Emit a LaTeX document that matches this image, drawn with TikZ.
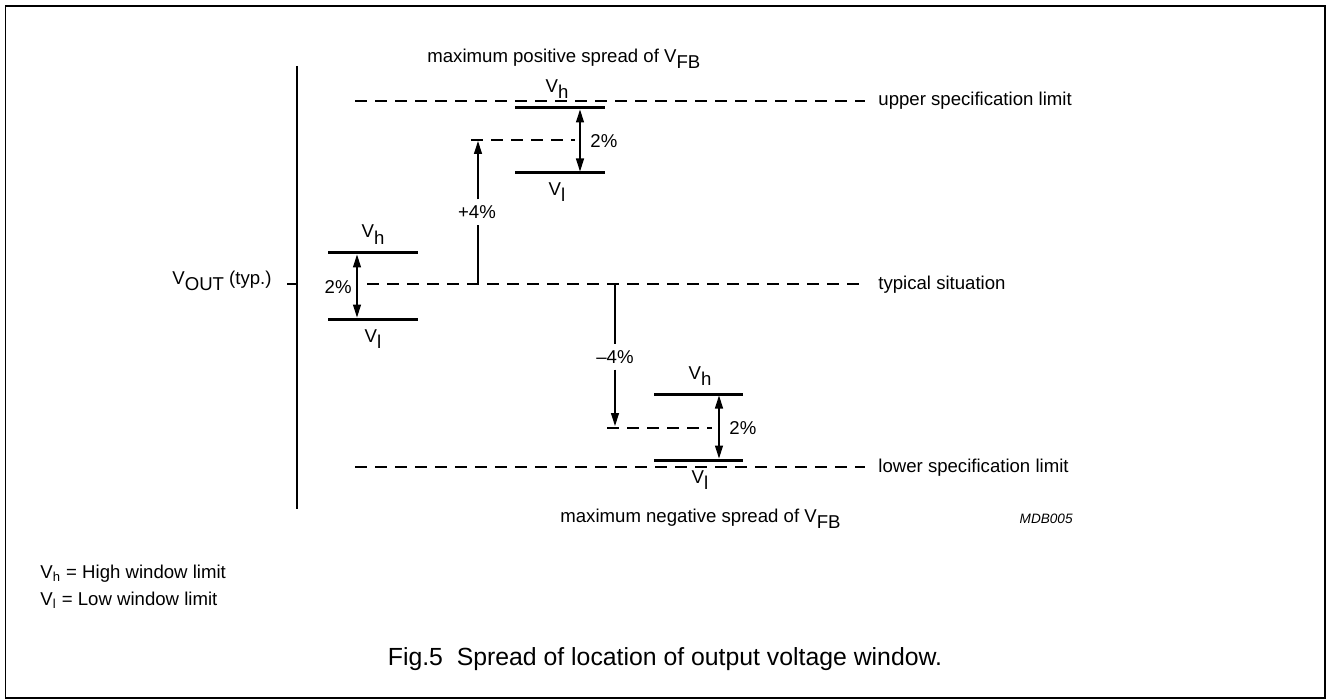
\documentclass[tikz,border=0pt]{standalone}
\usepackage{fontspec}
\setmainfont{Liberation Sans}
\usetikzlibrary{arrows.meta}

\newcommand{\vsub}[1]{V\raisebox{-3pt}{#1}}

\tikzset{
  lim/.style={line width=0.65pt, dash pattern=on 6pt off 4pt},
  bar/.style={line width=1.5pt},
  dim/.style={line width=0.6pt},
  tip/.style={-{Triangle[length=6.5pt,width=4pt]}},
  tips/.style={{Triangle[length=6.5pt,width=4pt]}-{Triangle[length=6.5pt,width=4pt]}},
  lbl/.style={inner sep=0pt, font=\fontsize{9.3}{11}\selectfont},
}

\begin{document}
\begin{tikzpicture}[x=0.5pt, y=-0.5pt]
 \useasboundingbox (0,0) rectangle (1327,700);
 \draw[line width=0.8pt] (5.5,6) rectangle (1325,698);

 % axis
 \coordinate (axT) at (297,66);
 \coordinate (axB) at (297,509);
 \coordinate (tick) at (287,284);
 \draw[dim] (axT) -- (axB);
 \draw[dim] (tick) -- (tick -| axT);
 \node[lbl, anchor=base east] (vout) at (272,285) {\vsub{OUT} (typ.)};

 % limit lines
 \coordinate (upA) at (355,101); \coordinate (upB) at (865,101);
 \coordinate (tyA) at (367,284); \coordinate (tyB) at (865,284);
 \coordinate (loA) at (355,467); \coordinate (loB) at (865,467);
 \draw[lim] (upA) -- (upB);
 \draw[lim] (tyA) -- (tyB);
 \draw[lim] (loA) -- (loB);
 \node[lbl, anchor=base west] (upper) at (878,106) {upper specification limit};
 \node[lbl, anchor=base west] (typical) at (878,289) {typical situation};
 \node[lbl, anchor=base west] (lower) at (878,472) {lower specification limit};
 \draw[lim] (471,140) -- (575,140);
 \draw[lim] (607,428) -- (712,428);

 % window, typical
 \draw[bar] (328,253) -- (418,253);
 \draw[bar] (328,319) -- (418,319);
 \coordinate (w1t) at (357,254.5); \coordinate (w1b) at (357,317.5);
 \draw[dim, tips] (w1t) -- (w1b);
 \node[lbl, anchor=east] (w1p) at (352,287) {2\%};
 \node[lbl, anchor=base] (w1vh) at (373,238) {\vsub{h}};
 \node[lbl, anchor=base] (w1vl) at (373,342) {\vsub{l}};

 % window, positive spread
 \draw[bar] (515,108) -- (605,108);
 \draw[bar] (515,173) -- (605,173);
 \coordinate (w2t) at (580,109.5); \coordinate (w2b) at (580,171.5);
 \draw[dim, tips] (w2t) -- (w2b);
 \node[lbl, anchor=west] (w2p) at (590,141) {2\%};
 \node[lbl, anchor=base] (w2vh) at (557,93) {\vsub{h}};
 \node[lbl, anchor=base] (w2vl) at (557,196) {\vsub{l}};

 % window, negative spread
 \draw[bar] (654,394) -- (743,394);
 \draw[bar] (654,460) -- (743,460);
 \coordinate (w3t) at (719,395.5); \coordinate (w3b) at (719,458.5);
 \draw[dim, tips] (w3t) -- (w3b);
 \node[lbl, anchor=west] (w3p) at (729,428) {2\%};
 \node[lbl, anchor=base] (w3vh) at (700,379) {\vsub{h}};
 \node[lbl, anchor=base] (w3vl) at (700,483) {\vsub{l}};

 % spreads
 \coordinate (p4b) at (478,284); \coordinate (p4t) at (478,141);
 \node[lbl, inner ysep=2.8pt] (p4) at (477,212) {+4\%};
 \draw[dim] (p4b) -- (p4b |- p4.south);
 \draw[dim, tip] (p4t |- p4.north) -- (p4t);
 \coordinate (m4t) at (615,284); \coordinate (m4b) at (615,426);
 \node[lbl, inner ysep=2.8pt] (m4) at (615,357) {--4\%};
 \draw[dim] (m4t) -- (m4t |- m4.north);
 \draw[dim, tip] (m4b |- m4.south) -- (m4b);

 \node[lbl, anchor=base west] (posspread) at (427,63) {maximum positive spread of \vsub{FB}};
 \node[lbl, anchor=base west] (negspread) at (560,522) {maximum negative spread of \vsub{FB}};
 \node[anchor=base east, inner sep=0pt, font=\fontsize{6.8}{8}\selectfont\itshape] (code) at (1073,523) {MDB005};

 % legend and caption
 \node[lbl, anchor=base west] (legh) at (40,578) {V\textsubscript{h} = High window limit};
 \node[lbl, anchor=base west] (legl) at (40,605) {V\textsubscript{l} = Low window limit};
 \node[anchor=base, inner sep=0pt, font=\fontsize{12.4}{15}\selectfont] (cap) at (665,665) {Fig.5~ Spread of location of output voltage window.};
\end{tikzpicture}
\end{document}
